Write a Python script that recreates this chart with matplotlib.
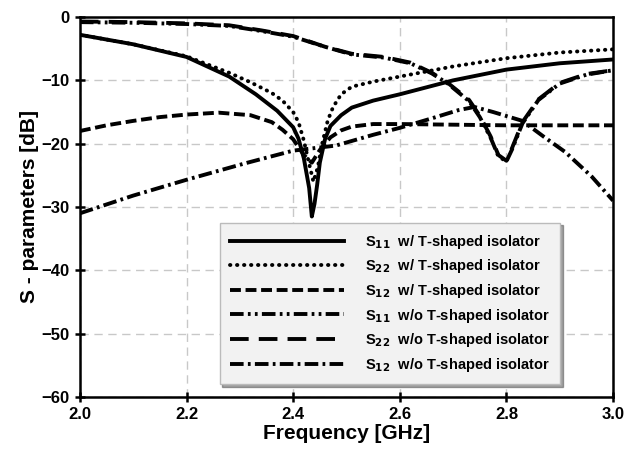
import numpy as np
import matplotlib
matplotlib.use("Agg")
import matplotlib.pyplot as plt

plt.rcParams['font.family'] = ['Liberation Sans', 'DejaVu Sans']
plt.rcParams['font.weight'] = 'bold'

# S11 w/ T-shaped isolator
f_s11 = [2.0, 2.1, 2.2, 2.28, 2.33, 2.37, 2.40, 2.41, 2.42, 2.43, 2.435, 2.44, 2.445,
         2.45, 2.46, 2.47, 2.49, 2.51, 2.55, 2.6, 2.7, 2.8, 2.9, 3.0]
s11_w = [-2.8, -4.3, -6.3, -9.4, -12.2, -14.8, -17.4, -19.2, -22.3, -27.0, -31.5, -29.5, -26.5,
         -23.0, -19.2, -17.2, -15.5, -14.3, -13.2, -12.2, -10.0, -8.3, -7.3, -6.7]

# S22 w/ T-shaped isolator
f_s22 = [2.0, 2.1, 2.2, 2.28, 2.32, 2.36, 2.38, 2.40, 2.41, 2.42, 2.43, 2.438, 2.446,
         2.455, 2.465, 2.475, 2.49, 2.51, 2.55, 2.6, 2.7, 2.8, 2.9, 3.0]
s22_w = [-2.8, -4.3, -6.2, -8.8, -10.3, -12.0, -13.2, -15.0, -16.6, -19.5, -23.2, -26.0, -23.8,
         -19.8, -16.3, -14.2, -12.2, -11.0, -10.2, -9.4, -7.8, -6.5, -5.6, -5.1]

# S12 w/ T-shaped isolator
f_s12 = [2.0, 2.05, 2.1, 2.15, 2.2, 2.26, 2.32, 2.36, 2.38, 2.40, 2.42, 2.435, 2.45,
         2.47, 2.49, 2.51, 2.55, 2.6, 2.7, 2.8, 2.9, 3.0]
s12_w = [-18.0, -17.1, -16.4, -15.8, -15.4, -15.1, -15.5, -16.6, -17.8, -19.3, -21.8, -23.0, -21.0,
         -19.0, -17.9, -17.3, -16.9, -16.9, -17.0, -17.1, -17.1, -17.1]

# S11 / S22 w/o T-shaped isolator
f_wo = [2.0, 2.1, 2.2, 2.28, 2.34, 2.40, 2.46, 2.51, 2.57, 2.62, 2.66, 2.69, 2.73,
        2.75, 2.77, 2.785, 2.80, 2.81, 2.83, 2.86, 2.90, 2.95, 3.0]
s11_wo = [-0.8, -0.9, -1.1, -1.4, -2.2, -3.1, -4.7, -5.9, -6.4, -7.3, -8.9, -10.5, -13.3,
          -15.8, -19.0, -22.0, -22.8, -21.0, -16.8, -13.1, -10.5, -9.1, -8.4]
s22_wo = [-0.7, -0.8, -1.0, -1.3, -2.1, -3.0, -4.7, -5.8, -6.3, -7.2, -8.8, -10.4, -13.1,
          -15.6, -18.8, -21.8, -22.7, -20.8, -16.6, -13.0, -10.4, -9.0, -8.4]

# S12 w/o T-shaped isolator
f_s12wo = [2.0, 2.1, 2.2, 2.31, 2.40, 2.48, 2.55, 2.6, 2.66, 2.71, 2.74, 2.775, 2.83,
           2.87, 2.91, 2.96, 3.0]
s12_wo = [-31.0, -28.2, -25.7, -23.1, -21.1, -20.3, -18.6, -17.5, -16.0, -14.7, -14.2, -15.0, -16.4,
          -18.9, -21.3, -25.2, -29.0]

labels = [r'S$_{11}$  w/ T-shaped isolator', r'S$_{22}$  w/ T-shaped isolator',
          r'S$_{12}$  w/ T-shaped isolator', r'S$_{11}$  w/o T-shaped isolator',
          r'S$_{22}$  w/o T-shaped isolator', r'S$_{12}$  w/o T-shaped isolator']

fig = plt.figure(figsize=(6.34, 4.61), dpi=100)
ax = fig.add_axes([0.126, 0.139, 0.841, 0.824])

lw = 2.8
ax.plot(f_s11, s11_w, color='black', lw=lw, label=labels[0])
ax.plot(f_s22, s22_w, color='black', lw=lw, linestyle=(0, (0.1, 1.7)),
        dash_capstyle='round', label=labels[1])
ax.plot(f_s12, s12_w, color='black', lw=lw, linestyle=(0, (2.8, 1.2)), label=labels[2])
ax.plot(f_wo, s11_wo, color='black', lw=lw, linestyle=(0, (3.5, 1.1, 0.7, 1.1, 0.7, 1.1)),
        label=labels[3])
ax.plot(f_wo, s22_wo, color='black', lw=lw, linestyle=(0, (4.8, 2.6)), label=labels[4])
ax.plot(f_s12wo, s12_wo, color='black', lw=lw, linestyle=(0, (3.5, 1.1, 0.7, 1.1)),
        label=labels[5])

ax.set_xlim(2.0, 3.0)
ax.set_ylim(-60, 0)
ax.set_xticks([2.0, 2.2, 2.4, 2.6, 2.8, 3.0])
ax.set_yticks([-60, -50, -40, -30, -20, -10, 0])
ax.set_xticklabels(['2.0', '2.2', '2.4', '2.6', '2.8', '3.0'])
ax.grid(True, color='#c8c8c8', linestyle=(0, (6, 4)), lw=1.0)
ax.set_axisbelow(True)
for sp in ax.spines.values():
    sp.set_linewidth(1.8)
ax.tick_params(direction='inout', length=7, width=1.8, labelsize=12, pad=4)
for t in ax.get_xticklabels() + ax.get_yticklabels():
    t.set_fontweight('bold')

ax.set_xlabel('Frequency [GHz]', fontsize=15, fontweight='bold', labelpad=1)
ax.set_ylabel('S - parameters [dB]', fontsize=15, fontweight='bold', labelpad=2)

leg = ax.legend(loc='lower right', bbox_to_anchor=(0.915, 0.015),
                handlelength=7.8, labelspacing=0.45, borderpad=0.7, handletextpad=1.5,
                fancybox=False, shadow=True, framealpha=1, edgecolor='#bbbbbb',
                facecolor='#f2f2f2', prop={'weight': 'bold', 'size': 10.5})
leg.get_frame().set_linewidth(1.0)

fig.savefig('out.png', dpi=100)
